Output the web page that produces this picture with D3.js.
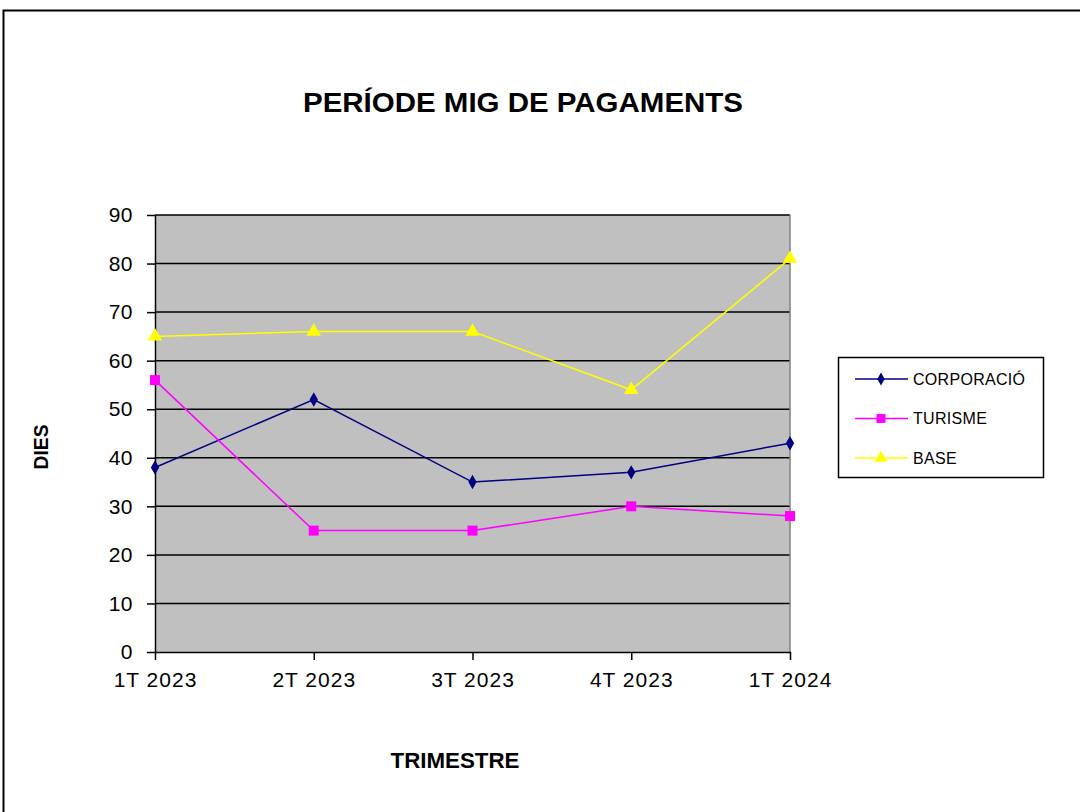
<!DOCTYPE html>
<html><head><meta charset="utf-8">
<script src="https://cdn.jsdelivr.net/npm/d3@7"></script>
<style>body{margin:0;background:#fff}svg{display:block}</style>
</head><body>
<svg id="c" width="1080" height="812"></svg>
<script>
const categories = ["1T 2023","2T 2023","3T 2023","4T 2023","1T 2024"];
const corporacio = [38,52,35,37,43];
const turisme = [56,25,25,30,28];
const base = [65,66,66,54,81];
const yTicks = [0,10,20,30,40,50,60,70,80,90];
const seriesNames = ["CORPORACIÓ","TURISME","BASE"];

const series = [
  {name:seriesNames[0], values:corporacio, color:"#000080", marker:d3.symbolDiamond, size:60},
  {name:seriesNames[1], values:turisme, color:"#FF00FF", marker:d3.symbolSquare, size:100},
  {name:seriesNames[2], values:base, color:"#FFFF00", marker:d3.symbolTriangle, size:90}
];

const svg = d3.select("#c");
const font = "Arial, 'Liberation Sans', sans-serif";

// outer border
svg.append("rect").attr("x",3.5).attr("y",10.5).attr("width",1100).attr("height",900)
  .attr("fill","none").attr("stroke","#000").attr("stroke-width",2);

const L=155, R=790, T=215, B=652;
const x = d3.scalePoint().domain(categories).range([L,R]);
const y = d3.scaleLinear().domain([0,90]).range([B,T]);

svg.append("rect").attr("x",L).attr("y",T).attr("width",R-L).attr("height",B-T).attr("fill","#C0C0C0");

// gridlines
svg.append("g").selectAll("line").data(yTicks.filter(d=>d>0)).join("line")
  .attr("x1",L).attr("x2",R).attr("y1",d=>y(d)).attr("y2",d=>y(d))
  .attr("stroke","#000").attr("stroke-width",1.5);
// right border
svg.append("line").attr("x1",R).attr("x2",R).attr("y1",T).attr("y2",B).attr("stroke","#808080").attr("stroke-width",1.5);

// y axis
const ya = svg.append("g").attr("transform",`translate(${L},0)`)
  .call(d3.axisLeft(y).tickValues(yTicks).tickSize(8).tickPadding(14).tickSizeOuter(0));
ya.select(".domain").attr("stroke","#000").attr("stroke-width",1.5);
ya.selectAll(".tick line").attr("stroke","#000").attr("stroke-width",1.5);
ya.selectAll("text").attr("font-family",font).attr("font-size",21).attr("fill","#000").attr("letter-spacing",0.5);

// x axis
const xa = svg.append("g").attr("transform",`translate(0,${B})`)
  .call(d3.axisBottom(x).tickSize(8).tickPadding(12).tickSizeOuter(0));
xa.select(".domain").attr("stroke","#000").attr("stroke-width",1.5);
xa.selectAll(".tick line").attr("stroke","#000").attr("stroke-width",1.5);
xa.selectAll("text").attr("font-family",font).attr("font-size",21).attr("fill","#000").attr("letter-spacing",1);

// lines
const line = d3.line().x((d,i)=>x(categories[i])).y(d=>y(d));
series.forEach(s=>{
  svg.append("path").datum(s.values).attr("d",line).attr("fill","none")
    .attr("stroke",s.color).attr("stroke-width",1.5);
  svg.append("g").selectAll("path").data(s.values).join("path")
    .attr("d",d3.symbol().type(s.marker).size(s.size))
    .attr("transform",(d,i)=>`translate(${x(categories[i])},${y(d)})`)
    .attr("fill",s.color);
});

// title
svg.append("text").attr("x",523).attr("y",112).attr("text-anchor","middle")
  .attr("font-family",font).attr("font-weight","bold").attr("font-size",27).attr("fill","#000")
  .attr("textLength",440).attr("lengthAdjust","spacingAndGlyphs")
  .text("PERÍODE MIG DE PAGAMENTS");
// axis titles
svg.append("text").attr("x",455).attr("y",768).attr("text-anchor","middle")
  .attr("font-family",font).attr("font-weight","bold").attr("font-size",22).attr("fill","#000")
  .attr("textLength",129).attr("lengthAdjust","spacingAndGlyphs").text("TRIMESTRE");
svg.append("text").attr("transform","translate(48,447) rotate(-90)").attr("text-anchor","middle")
  .attr("font-family",font).attr("font-weight","bold").attr("font-size",21).attr("fill","#000")
  .attr("textLength",45).attr("lengthAdjust","spacingAndGlyphs").text("DIES");

// legend
const lg = svg.append("g");
lg.append("rect").attr("x",838.5).attr("y",357.5).attr("width",205).attr("height",120)
  .attr("fill","#fff").attr("stroke","#000").attr("stroke-width",1.5);
series.forEach((s,i)=>{
  const ly = 379 + i*39.5;
  lg.append("line").attr("x1",855).attr("x2",908).attr("y1",ly).attr("y2",ly).attr("stroke",s.color).attr("stroke-width",1.5);
  lg.append("path").attr("d",d3.symbol().type(s.marker).size(s.size*0.8)).attr("transform",`translate(881,${ly})`).attr("fill",s.color);
  lg.append("text").attr("x",913).attr("y",ly+5.5).attr("font-family",font).attr("font-size",16).attr("fill","#000")
    .attr("letter-spacing",0.3).text(s.name);
});
</script>
</body></html>
